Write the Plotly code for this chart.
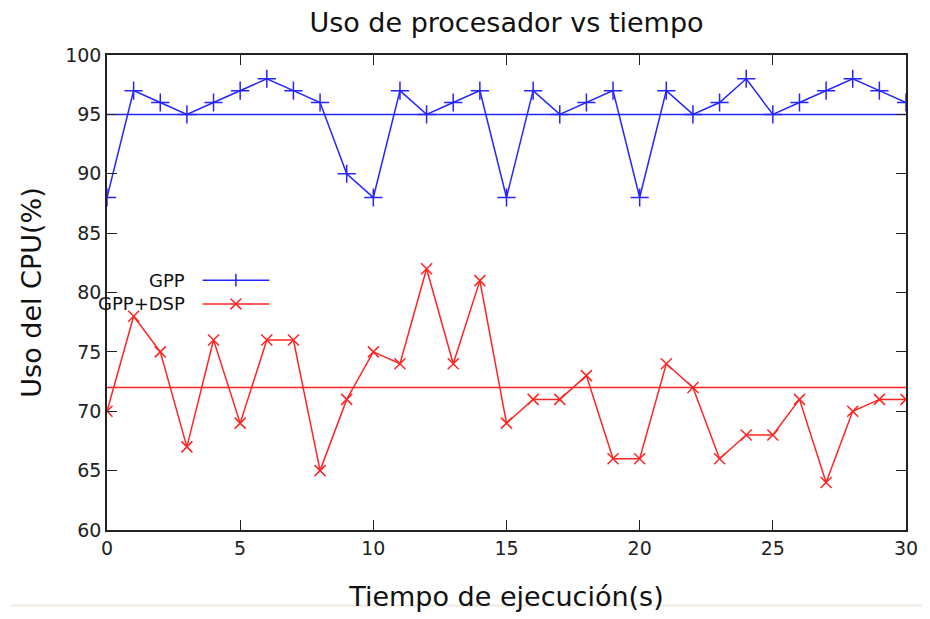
import plotly.graph_objects as go

t = list(range(31))
gpp = [88, 97, 96, 95, 96, 97, 98, 97, 96, 90, 88, 97, 95, 96, 97, 88,
       97, 95, 96, 97, 88, 97, 95, 96, 98, 95, 96, 97, 98, 97, 96]
gpp_dsp = [70, 78, 75, 67, 76, 69, 76, 76, 65, 71, 75, 74, 82, 74, 81, 69,
           71, 71, 73, 66, 66, 74, 72, 66, 68, 68, 71, 64, 70, 71, 71]
mean_gpp = 95
mean_gpp_dsp = 72
series_names = ["GPP", "GPP+DSP"]
x_ticks = [0, 5, 10, 15, 20, 25, 30]
y_ticks = [60, 65, 70, 75, 80, 85, 90, 95, 100]

BLUE = "#2424ff"
RED = "#ff2424"
FONT = "DejaVu Sans"

fig = go.Figure()
fig.add_trace(go.Scatter(
    x=t, y=gpp, name=series_names[0], mode="lines+markers",
    line=dict(color=BLUE, width=1.5),
    marker=dict(symbol="cross-thin", size=13, line=dict(color=BLUE, width=1.5)),
))
fig.add_trace(go.Scatter(
    x=t, y=gpp_dsp, name=series_names[1], mode="lines+markers",
    line=dict(color=RED, width=1.5),
    marker=dict(symbol="x-thin", size=11, line=dict(color=RED, width=1.5)),
))
fig.add_trace(go.Scatter(
    x=[t[0], t[-1]], y=[mean_gpp, mean_gpp], mode="lines", showlegend=False,
    line=dict(color=BLUE, width=1.5), hoverinfo="skip",
))
fig.add_trace(go.Scatter(
    x=[t[0], t[-1]], y=[mean_gpp_dsp, mean_gpp_dsp], mode="lines", showlegend=False,
    line=dict(color=RED, width=1.5), hoverinfo="skip",
))

axis_common = dict(
    showgrid=False, zeroline=False, showline=True, linecolor="#222222", linewidth=1.5,
    mirror="allticks", ticks="inside", ticklen=10, tickcolor="#222222", tickwidth=1.2,
    tickfont=dict(family=FONT, size=19, color="#222222"),
)

fig.update_xaxes(range=[0, 30], tickvals=x_ticks,
                 title=dict(text="Tiempo de ejecución(s)", font=dict(family=FONT, size=27, color="#111111"), standoff=30),
                 **axis_common)
fig.update_yaxes(range=[60, 100], tickvals=y_ticks,
                 title=dict(text="Uso del CPU(%)", font=dict(family=FONT, size=27, color="#111111"), standoff=16),
                 **axis_common)

# faint separator under the chart
fig.add_shape(type="line", xref="paper", yref="paper", x0=-0.121, x1=1.03, y0=-0.159, y1=-0.159,
              line=dict(color="#efe9e2", width=2))

# gnuplot-style key: label on the left, sample line with marker on the right
lx0, lx1, lxm = 0.1196, 0.2030, 0.1613
ly = [0.526, 0.476]
colors = [BLUE, RED]
for i, name in enumerate(series_names):
    fig.add_annotation(text=name, xref="paper", yref="paper", x=0.0996, y=ly[i],
                       xanchor="right", yanchor="middle", showarrow=False,
                       font=dict(family=FONT, size=18, color="#111111"))
    fig.add_shape(type="line", xref="paper", yref="paper", x0=lx0, x1=lx1, y0=ly[i], y1=ly[i],
                  line=dict(color=colors[i], width=1.5))
dxp, dyp = 6.5 / 803, 6.5 / 477
fig.add_shape(type="line", xref="paper", yref="paper", x0=lxm, x1=lxm, y0=ly[0] - dyp, y1=ly[0] + dyp,
              line=dict(color=BLUE, width=1.5))
dxx, dyx = 5.5 / 803, 5.5 / 477
fig.add_shape(type="line", xref="paper", yref="paper", x0=lxm - dxx, x1=lxm + dxx, y0=ly[1] - dyx, y1=ly[1] + dyx,
              line=dict(color=RED, width=1.5))
fig.add_shape(type="line", xref="paper", yref="paper", x0=lxm - dxx, x1=lxm + dxx, y0=ly[1] + dyx, y1=ly[1] - dyx,
              line=dict(color=RED, width=1.5))

# the page body has an 8px margin; the figure is sized so it ends at the window edge
fig.update_layout(
    width=922, height=611,
    margin=dict(l=99, r=20, t=47, b=87),
    paper_bgcolor="white", plot_bgcolor="white",
    title=dict(text="Uso de procesador vs tiempo", xref="paper", x=0.5, xanchor="center",
               y=0.977, yanchor="middle",
               font=dict(family=FONT, size=27, color="#111111")),
    font=dict(family=FONT, color="#111111"),
    showlegend=False,
)

fig.write_html("out.html")
